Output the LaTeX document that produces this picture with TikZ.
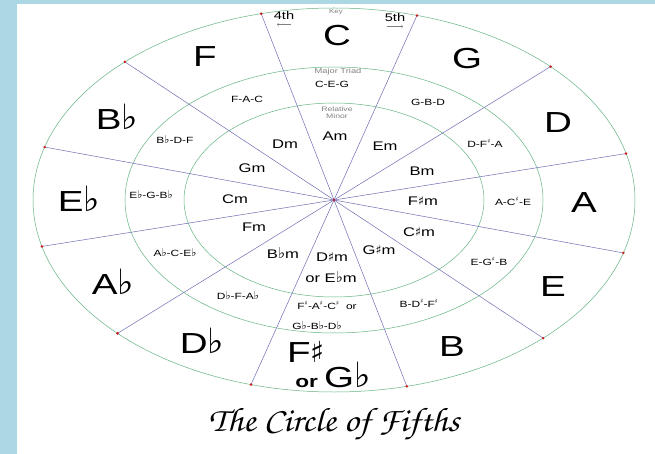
\documentclass[tikz,border=0pt]{standalone}
\usepackage{fontspec}
\setmainfont{Liberation Sans}[FakeStretch=1.33]
\newfontfamily\symfont{DejaVu Sans}
\newfontfamily\titlefont{TeX Gyre Chorus}[FakeStretch=1.08]
\usetikzlibrary{positioning}

\definecolor{ringgreen}{RGB}{100,180,130}
\definecolor{spokeblue}{RGB}{110,110,180}
\definecolor{dotred}{RGB}{200,30,30}
\definecolor{paneblue}{RGB}{172,216,228}

\newcommand{\fl}{\scalebox{1.2}{\symfont ♭}}
\newcommand{\shp}{{\symfont ♯}}
\newcommand{\upsh}{\textsuperscript{\symfont ♯}}

\begin{document}
\begin{tikzpicture}[x=1pt,y=-1pt,
  ring/.style={ringgreen,line width=0.5pt},
  spoke/.style={spokeblue,line width=0.5pt},
  keyname/.style={font=\fontsize{29}{31}\selectfont},
  triad/.style={font=\fontsize{9}{10}\selectfont},
  minor/.style={font=\fontsize{12.5}{14}\selectfont},
  tiny/.style={font=\fontsize{6}{7}\selectfont,gray}]
  \fill[paneblue] (0,0) rectangle (655,454);
  \fill[white] (17,4) rectangle (655,454);
  \coordinate (hub) at (334,200);
  % the three rings
  \draw[ring] (hub) ellipse [x radius=301pt, y radius=192pt];
  \draw[ring] (hub) ellipse [x radius=209pt, y radius=133pt];
  \draw[ring] (hub) ellipse [x radius=150pt, y radius=97pt];
  % spokes
  \foreach \t [count=\i] in {104,74,44,14,-16,-46,-76,-106,-136,-166,164,134}
    \coordinate (rim\i) at ({334+301*cos(\t)},{200-192*sin(\t)});
  \foreach \i in {1,...,12} {
    \draw[spoke] (hub) -- (rim\i);
    \fill[dotred] (rim\i) circle (1.4pt);
  }
  \fill[dotred] (hub) circle (1.4pt);

  % keys
  \node[keyname] (kC) at (337,36) {C};
  \node[keyname] (kG) at (467,59) {G};
  \node[keyname] (kD) at (558,123) {D};
  \node[keyname] (kA) at (584,203) {A};
  \node[keyname] (kE) at (553,287) {E};
  \node[keyname] (kB) at (452,347) {B};
  \node[keyname] (kFs) at (306,352) {F\shp};
  \node[keyname] (kGb) at (333,375) {\fontsize{17}{17}\selectfont\bfseries or\ \fontsize{29}{31}\selectfont\mdseries G\fl};
  \node[keyname] (kDb) at (202,341) {D\fl};
  \node[keyname] (kAb) at (113,282) {A\fl};
  \node[keyname] (kEb) at (79,199) {E\fl};
  \node[keyname] (kBb) at (117,117) {B\fl};
  \node[keyname] (kF) at (205,57) {F};

  \node[tiny] (keyhead) at (336,12) {Key};
  \node[font=\fontsize{11}{12}\selectfont] (fourth) at (284,16) {4th};
  \node[font=\fontsize{11}{12}\selectfont] (fifth) at (395,18) {5th};
  \draw[gray,line width=0.4pt,->] ([xshift=7pt,yshift=-1pt]fourth.south) -- ([xshift=-7pt,yshift=-1pt]fourth.south);
  \draw[gray,line width=0.4pt,->] ([xshift=-8pt,yshift=-1pt]fifth.south) -- ([xshift=8pt,yshift=-1pt]fifth.south);

  % major triads
  \node[tiny,font=\fontsize{7}{8}\selectfont] (majhead) at (338,72) {Major Triad};
  \node[triad] (tC) at (332,84) {C-E-G};
  \node[triad] (tG) at (428,102) {G-B-D};
  \node[triad] (tD) at (485,143) {D-F\upsh-A};
  \node[triad] (tA) at (513,201) {A-C\upsh-E};
  \node[triad] (tE) at (489,261) {E-G\upsh-B};
  \node[triad] (tB) at (419,303) {B-D\upsh-F\upsh};
  \node[triad] (tFs) at (327,305) {F\upsh-A\upsh-C\upsh\ \ or};
  \node[triad] (tGb) at (317,326) {G\fl-B\fl-D\fl};
  \node[triad] (tDb) at (238,296) {D\fl-F-A\fl};
  \node[triad] (tAb) at (175,253) {A\fl-C-E\fl};
  \node[triad] (tEb) at (151,195) {E\fl-G-B\fl};
  \node[triad] (tBb) at (175,140) {B\fl-D-F};
  \node[triad] (tF) at (247,99) {F-A-C};

  % relative minors
  \node[tiny,align=center,font=\fontsize{6.5}{7}\selectfont] (minhead) at (337,113) {Relative\\Minor};
  \node[minor] (mA) at (335,136) {Am};
  \node[minor] (mE) at (385,146) {Em};
  \node[minor] (mB) at (422,171) {Bm};
  \node[minor] (mFs) at (423,201) {F\shp m};
  \node[minor] (mCs) at (419,232) {C\shp m};
  \node[minor] (mGs) at (379,250) {G\shp m};
  \node[minor] (mDs) at (332,257) {D\shp m};
  \node[minor] (mEb) at (331,277) {or E\fl m};
  \node[minor] (mBb) at (283,253) {B\fl m};
  \node[minor] (mF) at (254,227) {Fm};
  \node[minor] (mC) at (235,199) {Cm};
  \node[minor] (mG) at (252,168) {Gm};
  \node[minor] (mD) at (285,144) {Dm};

  \node[font=\titlefont\fontsize{34}{36}\selectfont] (title) at (334,424) {The Circle of Fifths};
\end{tikzpicture}
\end{document}
